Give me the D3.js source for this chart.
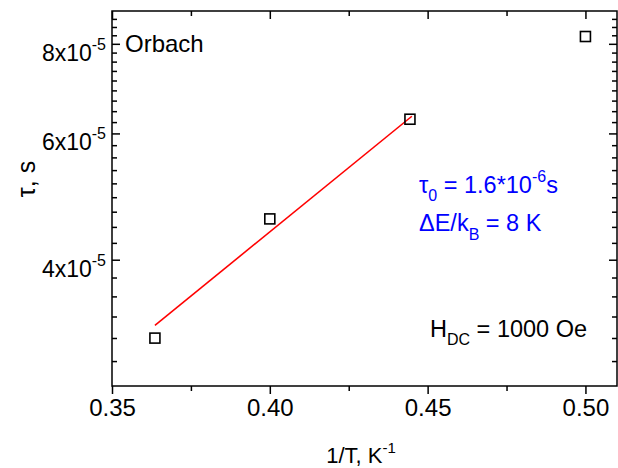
<!DOCTYPE html>
<html>
<head>
<meta charset="utf-8">
<script src="https://cdn.jsdelivr.net/npm/d3@7"></script>
<style>
  html, body { margin: 0; padding: 0; background: #fff; }
  svg { display: block; font-family: Arial, "Liberation Sans", sans-serif; }
</style>
</head>
<body>
<svg id="chart" width="618" height="468"></svg>
<script>
// ---- data ----
const invT = [0.3636, 0.4000, 0.4444, 0.5000];          // 1/T, K^-1
const tau = [3.11e-5, 4.56e-5, 6.28e-5, 8.19e-5];       // tau, s
const fitInvT = [0.3636, 0.4450];                        // Orbach fit line ends
const fitTau = [3.24e-5, 6.34e-5];
const xTicks = [0.35, 0.40, 0.45, 0.50];
const xTickLabels = ["0.35", "0.40", "0.45", "0.50"];
const xMinorTicks = [0.375, 0.425, 0.475];
const yTicks = [4e-5, 6e-5, 8e-5];
const yTickMantissa = ["4", "6", "8"];
const yTickExponent = "-5";

// ---- layout ----
const L = 112, R = 617, T = 11, B = 386;
const svg = d3.select("#chart");

const x = d3.scaleLinear().domain([0.35, 0.51]).range([L, R]);
const y = d3.scaleLog().domain([2.6667e-5, 8.8889e-5]).range([B, T]);

// minor y ticks: 8 per major interval, linear in value
const yStep = (yTicks[1] - yTicks[0]) / 9;
const yMinor = [];
for (let k = -5; k <= 21; k++) {
  if (k % 9 === 0) continue;
  const v = yTicks[0] + k * yStep;
  if (v > y.domain()[0] && v < y.domain()[1]) yMinor.push(v);
}

const axisColor = "#000";
const sw = 1.5;

// bottom axis (ticks outward)
const gB = svg.append("g").attr("transform", `translate(0,${B})`);
gB.call(d3.axisBottom(x).tickValues(xTicks).tickSize(8).tickFormat((d, i) => xTickLabels[i]))
  .call(g => g.select(".domain").remove());
gB.selectAll(".tick line").attr("stroke", axisColor).attr("stroke-width", sw);
gB.selectAll(".tick text").attr("font-size", 24).attr("fill", "#000").attr("y", 13).attr("dy", "0.71em");
const gBm = svg.append("g").attr("transform", `translate(0,${B})`);
gBm.call(d3.axisBottom(x).tickValues(xMinorTicks).tickSize(5).tickFormat(""))
  .call(g => g.select(".domain").remove());
gBm.selectAll(".tick line").attr("stroke-width", sw);

// top axis (ticks inward)
const gT = svg.append("g").attr("transform", `translate(0,${T})`);
gT.call(d3.axisBottom(x).tickValues(xTicks).tickSize(8).tickFormat(""))
  .call(g => g.select(".domain").remove());
gT.selectAll(".tick line").attr("stroke-width", sw);
const gTm = svg.append("g").attr("transform", `translate(0,${T})`);
gTm.call(d3.axisBottom(x).tickValues(xMinorTicks).tickSize(5).tickFormat(""))
  .call(g => g.select(".domain").remove());
gTm.selectAll(".tick line").attr("stroke-width", sw);

// left axis (ticks inward)
const gL = svg.append("g").attr("transform", `translate(${L},0)`);
gL.call(d3.axisRight(y).tickValues(yTicks).tickSize(8).tickFormat(""))
  .call(g => g.select(".domain").remove());
gL.selectAll(".tick line").attr("stroke-width", sw);
const gLm = svg.append("g").attr("transform", `translate(${L},0)`);
gLm.call(d3.axisRight(y).tickValues(yMinor).tickSize(5).tickFormat(""))
  .call(g => g.select(".domain").remove());
gLm.selectAll(".tick line").attr("stroke-width", sw);

// right axis (ticks inward)
const gR = svg.append("g").attr("transform", `translate(${R},0)`);
gR.call(d3.axisLeft(y).tickValues(yTicks).tickSize(8).tickFormat(""))
  .call(g => g.select(".domain").remove());
gR.selectAll(".tick line").attr("stroke-width", sw);
const gRm = svg.append("g").attr("transform", `translate(${R},0)`);
gRm.call(d3.axisLeft(y).tickValues(yMinor).tickSize(5).tickFormat(""))
  .call(g => g.select(".domain").remove());
gRm.selectAll(".tick line").attr("stroke-width", sw);

// y tick labels with superscript exponent
yTicks.forEach((v, i) => {
  const t = svg.append("text")
    .attr("x", 106).attr("y", y(v) + 17)
    .attr("text-anchor", "end").attr("font-size", 23).attr("fill", "#000");
  t.append("tspan").text(yTickMantissa[i] + "x10");
  t.append("tspan").attr("font-size", 16).attr("dy", -11).text(yTickExponent);
});

// frame
svg.append("rect").attr("x", L).attr("y", T).attr("width", R - L).attr("height", B - T)
  .attr("fill", "none").attr("stroke", "#000").attr("stroke-width", sw);

// fit line
const line = d3.line().x(d => x(d[0])).y(d => y(d[1]));
svg.append("path").datum(fitInvT.map((v, i) => [v, fitTau[i]]))
  .attr("d", line).attr("fill", "none").attr("stroke", "#ff0000").attr("stroke-width", 1.6);

// data squares
const s = 10;
svg.selectAll("rect.pt").data(invT.map((v, i) => [v, tau[i]])).enter()
  .append("rect").attr("class", "pt")
  .attr("x", d => x(d[0]) - s / 2).attr("y", d => y(d[1]) - s / 2)
  .attr("width", s).attr("height", s)
  .attr("fill", "none").attr("stroke", "#000").attr("stroke-width", 1.6);

// axis titles
const xt = svg.append("text").attr("x", 361).attr("y", 463).attr("text-anchor", "middle")
  .attr("font-size", 22).attr("fill", "#000");
xt.append("tspan").text("1/T, K");
xt.append("tspan").attr("font-size", 15).attr("dy", -10).text("-1");

svg.append("text").attr("transform", "translate(35,179) rotate(-90)")
  .attr("text-anchor", "middle").attr("font-size", 25).attr("fill", "#000").text("τ, s");

// annotations
svg.append("text").attr("x", 125).attr("y", 52).attr("font-size", 24).attr("fill", "#000").text("Orbach");

function richText(xp, yp, parts, color) {
  const t = svg.append("text").attr("x", xp).attr("y", yp).attr("font-size", 23.5).attr("fill", color);
  let cur = 0;
  parts.forEach(p => {
    const shift = p.shift || 0;
    const ts = t.append("tspan").attr("dy", shift - cur).text(p.t);
    if (p.small) ts.attr("font-size", 16);
    cur = shift;
  });
  return t;
}
richText(419, 193, [
  {t: "τ"}, {t: "0", small: true, shift: 8}, {t: " = 1.6*10"}, {t: "-6", small: true, shift: -11}, {t: "s"}
], "#0000ff");
richText(419, 231, [
  {t: "ΔE/k"}, {t: "B", small: true, shift: 9}, {t: " = 8 K"}
], "#0000ff");
richText(430, 337, [
  {t: "H"}, {t: "DC", small: true, shift: 8}, {t: " = 1000 Oe"}
], "#000");
</script>
</body>
</html>
